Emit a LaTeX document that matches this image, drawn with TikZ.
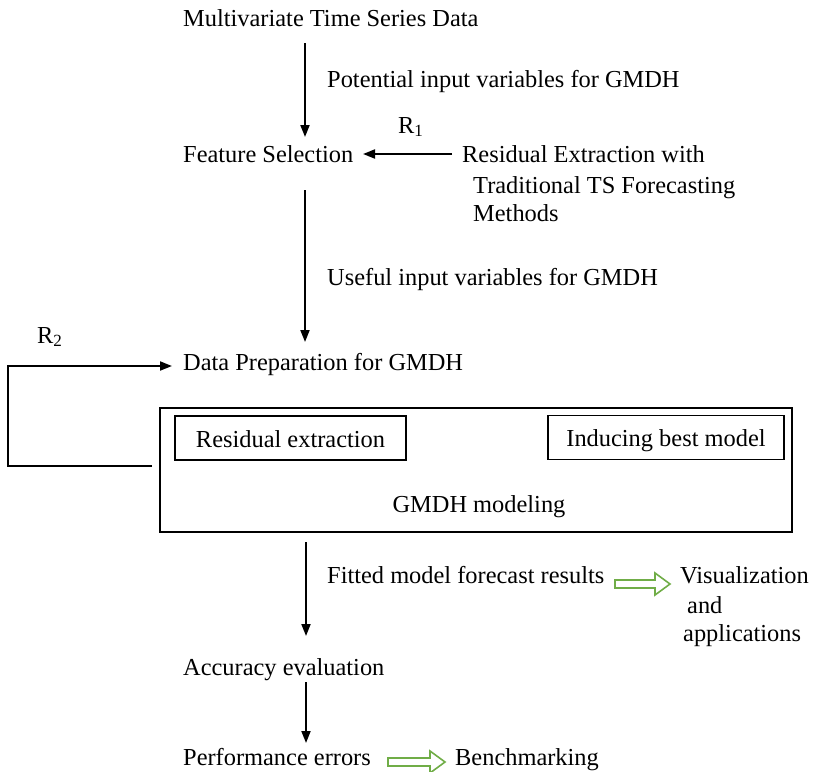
\documentclass[tikz,border=0pt]{standalone}
\usepackage{fontspec}
\setmainfont{Liberation Serif}
\usetikzlibrary{arrows.meta}
\definecolor{grn}{RGB}{112,173,71}
\begin{document}
\begin{tikzpicture}[x=1pt,y=-1pt,
  txt/.style={anchor=base west,inner sep=0pt,font=\fontsize{24.4}{29}\selectfont},
  ctxt/.style={anchor=base,inner sep=0pt,font=\fontsize{24.4}{29}\selectfont},
  arr/.style={line width=1.8pt,-{Triangle[length=12pt,width=9pt]}},
  frame/.style={draw,line width=1.4pt},
  hollow/.style={draw=grn,line width=1.6pt,fill=white}]
\useasboundingbox (0,0) rectangle (816,771);
% texts
\node[txt] (mts) at (183,27) {Multivariate Time Series Data};
\node[txt] (piv) at (327,87) {Potential input variables for GMDH};
\node[txt] (r1) at (398,133) {R\textsubscript{1}};
\node[txt] (fs) at (183,162) {Feature Selection};
\node[txt] (re1) at (462,162) {Residual Extraction with};
\node[txt] (re2) at (473,193) {Traditional TS Forecasting};
\node[txt] (re3) at (473,221) {Methods};
\node[txt] (uiv) at (327,285) {Useful input variables for GMDH};
\node[txt] (r2) at (37,343) {R\textsubscript{2}};
\node[txt] (dp) at (183,370) {Data Preparation for GMDH};
% boxes
\node[frame,minimum width=632pt,minimum height=124pt,inner sep=0pt] (gm) at (476,470) {};
\node[frame,minimum width=231pt,minimum height=44pt,inner sep=0pt] (rebox) at (290.5,438) {};
\node[ctxt] (ret) at (rebox.center |- 0,447) {Residual extraction};
\node[frame,minimum width=236pt,minimum height=44pt,inner sep=0pt] (ibbox) at (666,437.5) {};
\node[ctxt] (ibt) at (ibbox.center |- 0,446) {Inducing best model};
\node[ctxt] (gmt) at (479,512) {GMDH modeling};
% lower texts
\node[txt] (fmf) at (327,583) {Fitted model forecast results};
\node[txt] (vis1) at (680,583) {Visualization};
\node[txt] (vis2) at (687,613) {and};
\node[txt] (vis3) at (683,641) {applications};
\node[txt] (acc) at (183,675) {Accuracy evaluation};
\node[txt] (pe) at (183,765) {Performance errors};
\node[txt] (bm) at (455,765) {Benchmarking};
% arrow coordinates
\coordinate (a1s) at (305,43);
\coordinate (a1e) at (305,137);
\coordinate (a2s) at (305,190);
\coordinate (a2e) at (305,342);
\coordinate (a3s) at (306,542);
\coordinate (a3e) at (306,636);
\coordinate (a4s) at (306,682);
\coordinate (a4e) at (306,743);
\coordinate (r1s) at (452,154);
\coordinate (r1e) at (363,154);
\coordinate (fb0) at (152,466);
\coordinate (fb1) at (8,466);
\coordinate (fb2) at (8,366);
\coordinate (fb3) at (172,366);
\draw[arr] (a1s) -- (a1e);
\draw[arr] (a2s) -- (a2e);
\draw[arr] (a3s) -- (a3e);
\draw[arr] (a4s) -- (a4e);
\draw[arr] (r1s) -- (r1e);
\draw[arr] (fb0) -- (fb1) -- (fb2) -- (fb3);
% hollow green arrows
\draw[hollow] (615,580) -- (655,580) -- (655,573) -- (670,584) -- (655,595) -- (655,588) -- (615,588) -- cycle;
\draw[hollow] (388,758) -- (430,758) -- (430,751) -- (445,762) -- (430,773) -- (430,766) -- (388,766) -- cycle;
\end{tikzpicture}
\end{document}
